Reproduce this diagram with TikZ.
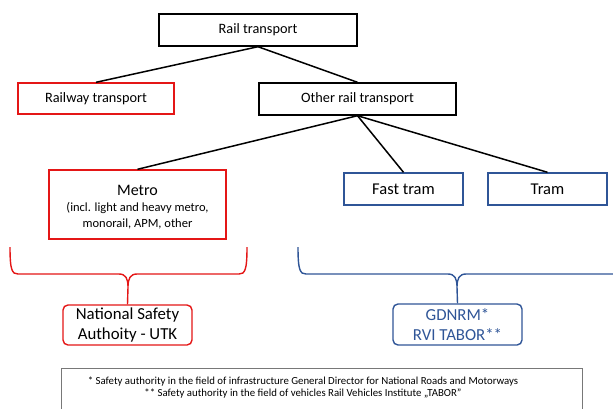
\documentclass[tikz,border=0pt]{standalone}
\usepackage{fontspec}
\setmainfont{Carlito}
\definecolor{redc}{RGB}{228,22,22}
\definecolor{bluec}{RGB}{47,85,151}
\definecolor{footgray}{RGB}{120,120,120}
\begin{document}
\begin{tikzpicture}[x=1pt,y=-1pt,
  box/.style={draw=black,line width=1.4pt,inner sep=0pt,font=\fontsize{14.3}{16}\selectfont},
  redbox/.style={box,draw=redc},
  bluebox/.style={box,draw=bluec,font=\fontsize{16.5}{18}\selectfont},
  conn/.style={line width=1.5pt,black},
  rbrace/.style={draw=redc,line width=1.4pt},
  bbrace/.style={draw=bluec,line width=1.4pt},
  auth/.style={rounded corners=5pt,draw,line width=1.4pt,inner sep=0pt,align=center,font=\fontsize{16.8}{20}\selectfont}]
\useasboundingbox (0,0) rectangle (613,408);
\clip (0,0) rectangle (613,408);
% boxes
\node[box,minimum width=198pt,minimum height=32pt] (rail) at (258,30) {Rail transport};
\node[redbox,minimum width=156pt,minimum height=31pt] (railway) at (96,98.5) {Railway transport};
\node[box,minimum width=197pt,minimum height=32pt] (other) at (357.5,99) {Other rail transport};
\node[redbox,minimum width=177pt,minimum height=69pt,align=center] (metro) at (137.5,204.5) {};
\node[font=\fontsize{16}{18}\selectfont,inner sep=0pt] (metrot) at (137.5,190) {Metro};
\node[font=\fontsize{12.5}{16}\selectfont,align=center,inner sep=0pt] (metros) at (137.5,216) {(incl. light and heavy metro,\\ monorail, APM, other};
\node[bluebox,minimum width=119pt,minimum height=32pt] (fast) at (403.5,189) {Fast tram};
\node[bluebox,minimum width=119pt,minimum height=32pt] (tram) at (547.5,189) {Tram};
\node[auth,draw=redc,minimum width=129pt,minimum height=40pt] (nsa) at (127.5,325) {National Safety\\Authoity - UTK};
\node[auth,draw=bluec,text=bluec,minimum width=129pt,minimum height=41pt] (gdn) at (457.5,324.5) {GDNRM*\\RVI TABOR**};
% connectors
\draw[conn] (rail.south) -- (railway.north);
\draw[conn] (rail.south) -- (other.north);
\draw[conn] (other.south) -- (metro.north);
\draw[conn] (other.south) -- (fast.north);
\draw[conn] (other.south) -- (tram.north);
% braces
\coordinate (rtip) at (128,287);
\coordinate (btip) at (457,287);
\draw[rbrace] (10,247) .. controls (10,270) and (12,274) .. (18,274) -- (119,274)
  .. controls (126,274) and (128,279) .. (rtip)
  .. controls (128,279) and (130,274) .. (137,274) -- (239,274)
  .. controls (245,274) and (247,270) .. (247,247);
\draw[rbrace] (rtip) -- (nsa.north);
\draw[bbrace] (298,247) .. controls (298,270) and (300,274) .. (306,274) -- (448,274)
  .. controls (455,274) and (457,279) .. (btip)
  .. controls (457,279) and (459,274) .. (466,274) -- (613,274);
\draw[bbrace] (btip) -- (gdn.north);
% footnote
\node[draw=footgray,line width=0.8pt,minimum width=521pt,minimum height=60pt,anchor=north west,inner sep=0pt] (foot) at (61,368) {};
\node[font=\fontsize{10.8}{11.5}\selectfont,align=center,inner sep=0pt] (foott) at (303,387.5) {* Safety authority in the field of infrastructure General Director for National Roads and Motorways\\** Safety authority in the field of vehicles Rail Vehicles Institute „TABOR”};
\end{tikzpicture}
\end{document}
